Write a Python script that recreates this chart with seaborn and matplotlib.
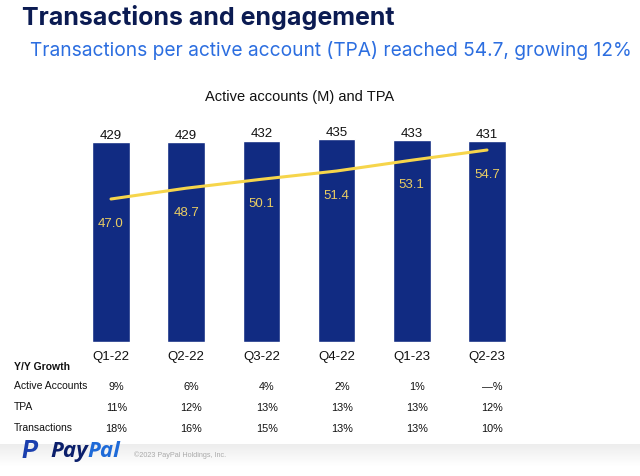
import matplotlib
matplotlib.use("Agg")
import matplotlib.pyplot as plt
import matplotlib.transforms as mtransforms
import seaborn as sns
import pandas as pd
import numpy as np

quarters = ["Q1-22", "Q2-22", "Q3-22", "Q4-22", "Q1-23", "Q2-23"]
active_accounts = [429, 429, 432, 435, 433, 431]
tpa = [47.0, 48.7, 50.1, 51.4, 53.1, 54.7]
growth_rows = ["Active Accounts", "TPA", "Transactions"]
growth_active = ["9%", "6%", "4%", "2%", "1%", "\u2014%"]
growth_tpa = ["11%", "12%", "13%", "13%", "13%", "12%"]
growth_trans = ["18%", "16%", "15%", "13%", "13%", "10%"]

NAVY = "#112b82"
YELLOW = "#f6d54b"
LABEL_YEL = "#e9cd63"

sns.set_theme(style="white")
plt.rcParams["font.family"] = ["Liberation Sans", "DejaVu Sans"]

fig = plt.figure(figsize=(6.4, 4.77), dpi=100)
W, H = 640, 477

# faint footer gradient band
band = fig.add_axes([0, 1 - 467 / H, 1, 22 / H], zorder=-5)
grad = np.linspace(0, 1, 50).reshape(-1, 1)
band.imshow(grad, aspect="auto", cmap=matplotlib.colors.LinearSegmentedColormap.from_list(
    "g", ["#ededed", "#ffffff"]), extent=[0, 1, 0, 1])
band.axis("off")

ax_left, ax_right = 73.4, 524.6
ax_bottom, ax_top = 343, 125
ax = fig.add_axes([ax_left / W, 1 - ax_bottom / H, (ax_right - ax_left) / W, (ax_bottom - ax_top) / H])

df = pd.DataFrame({"q": quarters, "aa": active_accounts, "tpa": tpa})
sns.barplot(data=df, x="q", y="aa", color=NAVY, width=0.5, ax=ax, saturation=1)
ax.set_ylim(0, 467.6)
ax.set_xlim(-0.5, 5.5)
for i, v in enumerate(active_accounts):
    ax.text(i, v + 3, f"{v}", ha="center", va="bottom", fontsize=9.5, color="#111111")

ax2 = ax.twinx()
sns.lineplot(x=list(range(len(quarters))), y=tpa, ax=ax2, color=YELLOW, linewidth=2.2)
ax2.set_ylim(24.52, 58.79)
ax2.set_xlim(-0.5, 5.5)
for i, v in enumerate(tpa):
    ax2.text(i, v - 2.8, f"{v:.1f}", ha="center", va="top", fontsize=9.5, color=LABEL_YEL)

for a in (ax, ax2):
    for s in a.spines.values():
        s.set_visible(False)
    a.set_yticks([])
    a.set_ylabel("")
ax.set_xlabel("")
ax.tick_params(axis="x", length=0, pad=6, labelsize=9.5, labelcolor="#111111")

# Titles
fig.text(22 / W, 1 - 18 / H, "Transactions and engagement", fontsize=18, fontweight="bold",
         color="#0b1b52", family=["Inter", "DejaVu Sans"], va="center", ha="left")
fig.text(30 / W, 1 - 50 / H, "Transactions per active account (TPA) reached 54.7, growing 12%",
         fontsize=13.8, color="#2c6ee0", family=["Inter", "DejaVu Sans"], va="center", ha="left")
fig.text(300 / W, 1 - 97 / H, "Active accounts (M) and TPA", fontsize=10.5, color="#111111",
         va="center", ha="center")

# Growth table
trans = mtransforms.blended_transform_factory(ax.transData, fig.transFigure)
fig.text(14 / W, 1 - 367 / H, "Y/Y Growth", fontsize=7.5, fontweight="bold", color="#111111", va="center")
row_y = [386, 407, 428]
for name, vals, yy in zip(growth_rows, [growth_active, growth_tpa, growth_trans], row_y):
    fig.text(14 / W, 1 - yy / H, name, fontsize=7.5, color="#111111", va="center")
    for i, v in enumerate(vals):
        ax.text(i + 0.07, 1 - (yy + 1) / H, v, transform=trans, fontsize=7.8, color="#111111",
                ha="center", va="center")

# Footer
fig.text(21 / W, 1 - 452 / H, "P", fontsize=18, fontweight="bold", fontstyle="italic",
         color="#1b3fae", va="center", ha="left", family=["Inter", "DejaVu Sans"])
fig.text(50 / W, 1 - 452 / H, "Pay", fontsize=16, fontweight="bold", fontstyle="italic",
         color="#0b1f6b", va="center", ha="left", family=["Open Sans", "DejaVu Sans"])
fig.text(87 / W, 1 - 452 / H, "Pal", fontsize=16, fontweight="bold", fontstyle="italic",
         color="#1e6ad8", va="center", ha="left", family=["Open Sans", "DejaVu Sans"])
fig.text(134 / W, 1 - 455 / H, "\u00a92023 PayPal Holdings, Inc.", fontsize=5.2, color="#aaaaaa",
         va="center", ha="left")

fig.savefig("out.png", dpi=100)
